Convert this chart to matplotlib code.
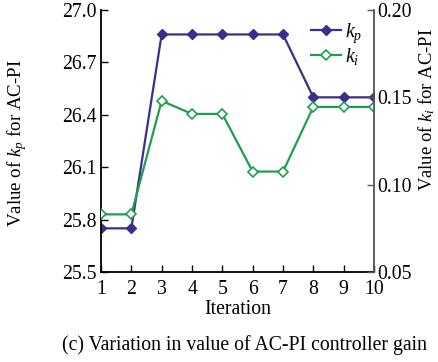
import matplotlib
matplotlib.use("Agg")
import matplotlib.pyplot as plt

# data
iteration = [1, 2, 3, 4, 5, 6, 7, 8, 9, 10]
kp = [25.75, 25.75, 26.86, 26.86, 26.86, 26.86, 26.86, 26.50, 26.50, 26.50]
ki = [0.083, 0.083, 0.148, 0.1405, 0.1405, 0.1075, 0.1075, 0.1445, 0.1445, 0.1445]

plt.rcParams['font.family'] = ['Liberation Serif']
plt.rcParams['mathtext.fontset'] = 'custom'
plt.rcParams['mathtext.rm'] = 'Liberation Serif'
plt.rcParams['mathtext.it'] = 'Liberation Serif:italic'
plt.rcParams['font.size'] = 14.2

kp_color = '#3b2f8c'
ki_color = '#1f9e4f'

fig = plt.figure(figsize=(4.38, 3.62), dpi=100)
ax = fig.add_axes([101/438, 1 - 272/362, (374-101)/438, (272-10)/362])
ax2 = ax.twinx()

l1, = ax.plot(iteration, kp, color=kp_color, lw=1.6, marker='D', ms=5.5,
              mfc=kp_color, mec=kp_color, label='$k_p$')
l2, = ax2.plot(iteration, ki, color=ki_color, lw=1.6, marker='D', ms=5.5,
               mfc='white', mec=ki_color, mew=1.2, label='$k_i$')

ax.set_xlim(1, 10)
ax.set_ylim(25.5, 27.0)
ax.set_yticks([25.5, 25.8, 26.1, 26.4, 26.7, 27.0])
ax.set_yticklabels(['25.5', '25.8', '26.1', '26.4', '26.7', '27.0'])
ax.set_xticks(iteration)
ax2.set_ylim(0.05, 0.20)
ax2.set_yticks([0.05, 0.10, 0.15, 0.20])
ax2.set_yticklabels(['0.05', '0.10', '0.15', '0.20'])

for a in (ax, ax2):
    a.spines['top'].set_visible(False)
    a.tick_params(direction='in', length=5, width=1, pad=3)
ax.tick_params(axis='x', pad=5.5)
ax.spines['right'].set_visible(False)
ax2.spines['left'].set_visible(False)
ax2.spines['bottom'].set_visible(False)
ax2.spines['right'].set_color('#555555')
ax2.spines['right'].set_linewidth(1.3)
ax.spines['left'].set_linewidth(1.3)
ax.spines['bottom'].set_linewidth(1.3)
ax2.tick_params(colors='#555555', labelcolor='black', pad=2)

ax.set_xlabel('Iteration', labelpad=1)
ax.set_ylabel('Value of $k_p$ for AC-PI', fontsize=13.6)
ax.yaxis.set_label_coords(-0.262, 0.49)
ax2.set_ylabel('Value of $k_i$ for AC-PI', fontsize=13.4)
ax2.yaxis.set_label_coords(1.155, 0.62)

ax.legend([l1, l2], ['$k_p$', '$k_i$'], loc='upper right', bbox_to_anchor=(1.0, 1.0),
          frameon=False, handlelength=1.5, handletextpad=0.2, labelspacing=0.05,
          borderaxespad=0.2)

fig.text(244/438, 1 - 345/362, '(c) Variation in value of AC-PI controller gain',
         ha='center', va='center')

fig.savefig('out.png', dpi=100)
